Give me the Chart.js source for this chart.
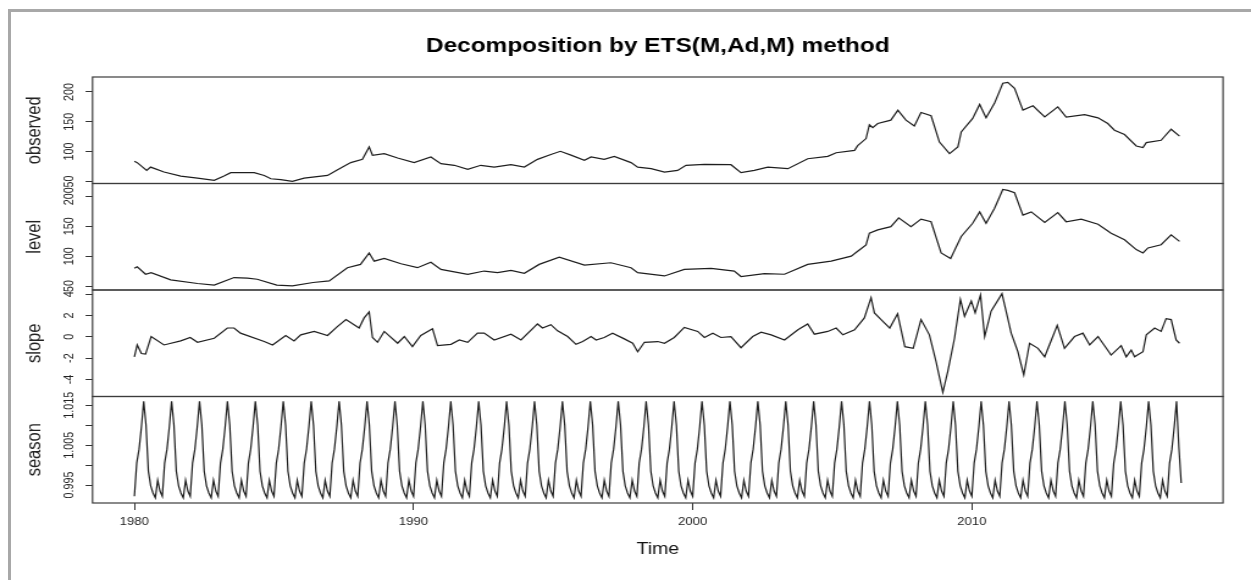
<!DOCTYPE html>
<html><head><meta charset="utf-8">
<script src="https://cdn.jsdelivr.net/npm/chart.js@4.4.1/dist/chart.umd.min.js"></script>
<style>
html,body{margin:0;padding:0;background:#fff;overflow:hidden;width:1251px;height:580px;position:relative;}
#wrap{position:absolute;left:0;top:0;width:1025px;height:580px;transform:scaleX(1.220488);transform-origin:0 0;}
#frame{position:absolute;left:8px;top:9px;width:1260px;height:590px;border-left:3px solid #a8a8a8;border-top:3px solid #a8a8a8;box-sizing:border-box;pointer-events:none;}
</style></head><body>
<div id="wrap"><canvas id="c" width="1025" height="580"></canvas></div>
<div id="frame"></div>
<script>
// ---- data ----
const xTicks = [1980, 1990, 2000, 2010];
const obsTicks = [50, 100, 150, 200];
const levelTicks = [50, 100, 150, 200];
const slopeTicks = [-4, -2, 0, 2, 4];
const seasonTicks = [0.995, 1.000, 1.005, 1.010, 1.015];
const seasonTickLabels = ['0.995', '', '1.005', '', '1.015'];

const obsTime = [1980.0,1980.1,1980.44,1980.58,1981.06,1981.66,1982.26,1982.86,1983.21,1983.45,1984.29,1984.65,1984.89,1985.24,1985.66,1986.08,1986.92,1987.28,1987.75,1988.17,1988.41,1988.53,1988.95,1989.43,1990.02,1990.62,1990.98,1991.46,1991.94,1992.41,1992.89,1993.49,1993.97,1994.44,1994.92,1995.26,1995.64,1996.12,1996.36,1996.83,1997.19,1997.79,1998.03,1998.51,1998.99,1999.46,1999.76,2000.42,2001.37,2001.73,2002.21,2002.69,2003.41,2004.12,2004.84,2005.14,2005.8,2005.91,2006.21,2006.33,2006.45,2006.63,2007.1,2007.35,2007.64,2007.94,2008.18,2008.54,2008.84,2009.2,2009.5,2009.62,2010.03,2010.28,2010.51,2010.81,2011.11,2011.29,2011.53,2011.83,2012.19,2012.61,2013.08,2013.38,2014.04,2014.52,2014.87,2015.11,2015.47,2015.89,2016.13,2016.25,2016.78,2017.14,2017.44];
const observed = [83.7,81.5,68.5,74,65.7,59,55.6,51.7,59,64.6,64.6,60,54.5,53,50,55.6,60,69.6,81.5,87,107.8,93.8,96.6,89.3,81.5,91,79.8,77,70.2,77,74,78,74,87,95,100.5,94,85.3,91,87,92,81.5,74,71.4,65.7,68.5,77,78.6,78,64.6,68.5,74,71.4,88,92,98,102,110,121.8,145,140,147,152.7,169.5,152.7,143,165.6,160,116,96.6,107.8,133,155.5,179,156.6,180.8,214.5,216,206,169.5,176.8,158,175,158,162,156.6,147,135.9,128.6,109.4,106.7,115,119,137.5,126];

const levelTime = [1980.0,1980.1,1980.4,1980.6,1981.3,1982.26,1982.86,1983.57,1984.05,1984.4,1985.1,1985.66,1986.4,1986.98,1987.63,1988.1,1988.41,1988.59,1988.95,1989.55,1990.14,1990.62,1990.98,1991.94,1992.53,1993.01,1993.49,1993.97,1994.5,1995.22,1996.12,1997.07,1997.79,1998.03,1998.99,1999.7,2000.66,2001.49,2001.73,2002.57,2003.29,2004.12,2004.96,2005.68,2005.91,2006.21,2006.33,2006.63,2007.1,2007.38,2007.82,2008.18,2008.54,2008.9,2009.24,2009.62,2010.03,2010.28,2010.51,2010.81,2011.11,2011.29,2011.53,2011.83,2012.13,2012.61,2013.08,2013.38,2013.92,2014.52,2014.99,2015.47,2015.89,2016.13,2016.31,2016.78,2017.14,2017.44];
const level = [79.7,82.4,69.8,72.6,60.4,54.4,51.6,64.3,63.2,61.5,51.6,50.5,56,58.7,80.8,86.3,105.5,91.7,96.2,87.4,80.8,90,78,69.8,75.2,72.6,76.4,71.4,86.3,98.3,85.1,89,80.8,72.6,67,78,79.7,75.2,66,71,69.8,86.3,91.7,100,108.2,119,138.5,144,149.4,164.2,149.4,162,157.6,105.5,96.2,133,155,174,155,179.7,211.5,210,206,168.7,174,156.6,173,157.6,162,153.3,138.5,127.5,111,105.5,113.8,119.2,135.7,124.7];

const slopeTime = [1980.0,1980.1,1980.25,1980.4,1980.6,1981.06,1981.66,1982.0,1982.26,1982.86,1983.33,1983.57,1983.8,1984.65,1984.95,1985.42,1985.72,1985.96,1986.44,1986.92,1987.28,1987.58,1988.05,1988.23,1988.41,1988.53,1988.71,1988.95,1989.43,1989.67,1989.96,1990.26,1990.68,1990.86,1991.34,1991.64,1991.94,1992.29,1992.53,1992.89,1993.49,1993.85,1994.44,1994.62,1994.92,1995.16,1995.52,1995.82,1996.06,1996.36,1996.54,1996.83,1997.13,1997.55,1997.85,1998.03,1998.27,1998.75,1998.99,1999.34,1999.7,2000.18,2000.42,2000.72,2001.01,2001.37,2001.73,2002.15,2002.45,2002.81,2003.29,2003.77,2004.12,2004.36,2004.84,2005.14,2005.38,2005.8,2006.15,2006.39,2006.51,2006.75,2007.06,2007.34,2007.6,2007.9,2008.18,2008.48,2008.72,2008.96,2009.14,2009.38,2009.59,2009.74,2009.98,2010.12,2010.31,2010.46,2010.69,2011.08,2011.41,2011.65,2011.86,2012.07,2012.37,2012.61,2012.85,2013.06,2013.32,2013.68,2013.98,2014.22,2014.52,2014.99,2015.35,2015.53,2015.71,2015.83,2016.13,2016.25,2016.55,2016.78,2016.96,2017.14,2017.32,2017.44];
const slope = [-1.87,-0.76,-1.56,-1.62,0.03,-0.76,-0.38,-0.06,-0.51,-0.13,0.83,0.83,0.35,-0.44,-0.76,0.13,-0.38,0.19,0.51,0.13,0.98,1.62,0.83,1.78,2.35,-0.06,-0.51,0.51,-0.6,0.03,-0.92,0.13,0.76,-0.83,-0.7,-0.29,-0.51,0.35,0.35,-0.29,0.25,-0.29,1.21,0.83,1.14,0.57,0.03,-0.7,-0.44,0.03,-0.29,-0.06,0.35,-0.19,-0.6,-1.4,-0.51,-0.44,-0.6,-0.06,0.89,0.51,-0.06,0.35,-0.06,0.03,-1.02,0.03,0.44,0.19,-0.29,0.67,1.21,0.25,0.51,0.83,0.19,0.67,1.78,3.68,2.25,1.62,0.83,2.16,-0.92,-1.08,1.62,0.19,-2.35,-5.21,-3.24,-0.13,3.52,1.94,3.37,2.25,3.94,0.03,2.41,4.06,0.35,-1.4,-3.56,-0.6,-1.08,-1.87,-0.29,1.08,-1.08,0.03,0.35,-0.76,0.03,-1.71,-0.83,-1.87,-1.24,-1.87,-1.4,0.19,0.83,0.51,1.71,1.62,-0.29,-0.6];

const seasonStart = 1980; // monthly, Jan 1980 .. Jul 2017
const season = [
0.9922,1.0005,1.0040,1.0095,1.0160,1.0100,0.9985,0.9948,0.9930,0.9918,0.9962,0.9935,
0.9922,1.0005,1.0040,1.0095,1.0160,1.0100,0.9985,0.9948,0.9930,0.9918,0.9962,0.9935,
0.9922,1.0005,1.0040,1.0095,1.0160,1.0100,0.9985,0.9948,0.9930,0.9918,0.9962,0.9935,
0.9922,1.0005,1.0040,1.0095,1.0160,1.0100,0.9985,0.9948,0.9930,0.9918,0.9962,0.9935,
0.9922,1.0005,1.0040,1.0095,1.0160,1.0100,0.9985,0.9948,0.9930,0.9918,0.9962,0.9935,
0.9922,1.0005,1.0040,1.0095,1.0160,1.0100,0.9985,0.9948,0.9930,0.9918,0.9962,0.9935,
0.9922,1.0005,1.0040,1.0095,1.0160,1.0100,0.9985,0.9948,0.9930,0.9918,0.9962,0.9935,
0.9922,1.0005,1.0040,1.0095,1.0160,1.0100,0.9985,0.9948,0.9930,0.9918,0.9962,0.9935,
0.9922,1.0005,1.0040,1.0095,1.0160,1.0100,0.9985,0.9948,0.9930,0.9918,0.9962,0.9935,
0.9922,1.0005,1.0040,1.0095,1.0160,1.0100,0.9985,0.9948,0.9930,0.9918,0.9962,0.9935,
0.9922,1.0005,1.0040,1.0095,1.0160,1.0100,0.9985,0.9948,0.9930,0.9918,0.9962,0.9935,
0.9922,1.0005,1.0040,1.0095,1.0160,1.0100,0.9985,0.9948,0.9930,0.9918,0.9962,0.9935,
0.9922,1.0005,1.0040,1.0095,1.0160,1.0100,0.9985,0.9948,0.9930,0.9918,0.9962,0.9935,
0.9922,1.0005,1.0040,1.0095,1.0160,1.0100,0.9985,0.9948,0.9930,0.9918,0.9962,0.9935,
0.9922,1.0005,1.0040,1.0095,1.0160,1.0100,0.9985,0.9948,0.9930,0.9918,0.9962,0.9935,
0.9922,1.0005,1.0040,1.0095,1.0160,1.0100,0.9985,0.9948,0.9930,0.9918,0.9962,0.9935,
0.9922,1.0005,1.0040,1.0095,1.0160,1.0100,0.9985,0.9948,0.9930,0.9918,0.9962,0.9935,
0.9922,1.0005,1.0040,1.0095,1.0160,1.0100,0.9985,0.9948,0.9930,0.9918,0.9962,0.9935,
0.9922,1.0005,1.0040,1.0095,1.0160,1.0100,0.9985,0.9948,0.9930,0.9918,0.9962,0.9935,
0.9922,1.0005,1.0040,1.0095,1.0160,1.0100,0.9985,0.9948,0.9930,0.9918,0.9962,0.9935,
0.9922,1.0005,1.0040,1.0095,1.0160,1.0100,0.9985,0.9948,0.9930,0.9918,0.9962,0.9935,
0.9922,1.0005,1.0040,1.0095,1.0160,1.0100,0.9985,0.9948,0.9930,0.9918,0.9962,0.9935,
0.9922,1.0005,1.0040,1.0095,1.0160,1.0100,0.9985,0.9948,0.9930,0.9918,0.9962,0.9935,
0.9922,1.0005,1.0040,1.0095,1.0160,1.0100,0.9985,0.9948,0.9930,0.9918,0.9962,0.9935,
0.9922,1.0005,1.0040,1.0095,1.0160,1.0100,0.9985,0.9948,0.9930,0.9918,0.9962,0.9935,
0.9922,1.0005,1.0040,1.0095,1.0160,1.0100,0.9985,0.9948,0.9930,0.9918,0.9962,0.9935,
0.9922,1.0005,1.0040,1.0095,1.0160,1.0100,0.9985,0.9948,0.9930,0.9918,0.9962,0.9935,
0.9922,1.0005,1.0040,1.0095,1.0160,1.0100,0.9985,0.9948,0.9930,0.9918,0.9962,0.9935,
0.9922,1.0005,1.0040,1.0095,1.0160,1.0100,0.9985,0.9948,0.9930,0.9918,0.9962,0.9935,
0.9922,1.0005,1.0040,1.0095,1.0160,1.0100,0.9985,0.9948,0.9930,0.9918,0.9962,0.9935,
0.9922,1.0005,1.0040,1.0095,1.0160,1.0100,0.9985,0.9948,0.9930,0.9918,0.9962,0.9935,
0.9922,1.0005,1.0040,1.0095,1.0160,1.0100,0.9985,0.9948,0.9930,0.9918,0.9962,0.9935,
0.9922,1.0005,1.0040,1.0095,1.0160,1.0100,0.9985,0.9948,0.9930,0.9918,0.9962,0.9935,
0.9922,1.0005,1.0040,1.0095,1.0160,1.0100,0.9985,0.9948,0.9930,0.9918,0.9962,0.9935,
0.9922,1.0005,1.0040,1.0095,1.0160,1.0100,0.9985,0.9948,0.9930,0.9918,0.9962,0.9935,
0.9922,1.0005,1.0040,1.0095,1.0160,1.0100,0.9985,0.9948,0.9930,0.9918,0.9962,0.9935,
0.9922,1.0005,1.0040,1.0095,1.0160,1.0100,0.9985,0.9948,0.9930,0.9918,0.9962,0.9935,
0.9922,1.0005,1.0040,1.0095,1.0160,1.0045,0.9955
];

const titleText = 'Decomposition by ETS(M,Ad,M) method';
const panelNames = ['observed', 'level', 'slope', 'season'];

// ---- chart construction ----
const FONT = "'Liberation Sans', Arial, Helvetica, sans-serif";
const pairs = (t, v) => v.map((y, i) => ({x: t[i], y}));
const seasonPts = season.map((y, i) => ({x: seasonStart + i / 12, y}));

function yAxis(title, weight, min, max, tickVals, pad, labels) {
  return {
    type: 'linear', position: 'left', stack: 'panels', stackWeight: 1, weight,
    min, max,
    afterBuildTicks(s) { s.ticks = tickVals.map(v => ({value: v})); },
    ticks: { autoSkip: false, minRotation: 90, maxRotation: 90,
             crossAlign: 'center', padding: pad, font: {family: FONT, size: 10.8}, color: '#222',
             callback: (v, i) => (labels ? labels[i] : String(v)) },
    grid: { drawOnChartArea: false, drawTicks: true, tickLength: 5.7, color: '#333', lineWidth: 1 },
    border: { display: false },
    title: { display: true, text: title, font: {family: FONT, size: 16.5}, color: '#222', padding: {top: 18.4, bottom: 0} },
    afterFit(s) { s.width = 75.8; }
  };
}

const panelFrames = {
  id: 'panelFrames',
  afterDatasetsDraw(chart) {
    const {ctx, chartArea} = chart;
    ctx.save();
    ctx.strokeStyle = '#3c3c3c';
    ctx.lineWidth = 1.2;
    ['yObs', 'yLevel', 'ySlope', 'ySeason'].forEach(id => {
      const s = chart.scales[id];
      ctx.strokeRect(chartArea.left, s.top, chartArea.right - chartArea.left, s.bottom - s.top);
    });
    ctx.restore();
  }
};

const lineStyle = { borderColor: '#1e1e1e', borderWidth: 1.2, pointRadius: 0, fill: false, tension: 0 };

new Chart(document.getElementById('c'), {
  type: 'line',
  data: {
    datasets: [
      Object.assign({ label: panelNames[0], data: pairs(obsTime, observed), yAxisID: 'yObs' }, lineStyle),
      Object.assign({ label: panelNames[1], data: pairs(levelTime, level), yAxisID: 'yLevel' }, lineStyle),
      Object.assign({ label: panelNames[2], data: pairs(slopeTime, slope), yAxisID: 'ySlope' }, lineStyle),
      Object.assign({ label: panelNames[3], data: seasonPts, yAxisID: 'ySeason' }, lineStyle)
    ]
  },
  options: {
    responsive: false, animation: false, events: [],
    layout: { padding: { left: 0, right: 22.9, top: 0, bottom: 0 } },
    plugins: {
      legend: { display: false }, tooltip: { enabled: false },
      title: { display: true, text: titleText, fullSize: false, color: '#000',
               font: {family: FONT, size: 20, weight: 'bold'}, padding: {top: 34, bottom: 19} }
    },
    scales: {
      x: { type: 'linear', position: 'bottom', min: 1978.5, max: 2019.0,
           afterBuildTicks(s) { s.ticks = xTicks.map(v => ({value: v})); },
           ticks: { autoSkip: false, minRotation: 0, maxRotation: 0, padding: 6, font: {family: FONT, size: 10.8}, color: '#222', callback: v => String(v) },
           grid: { drawOnChartArea: false, drawTicks: true, tickLength: 7, color: '#333' },
           border: { display: false },
           title: { display: true, text: 'Time', font: {family: FONT, size: 16}, color: '#111', padding: {top: 0, bottom: 21.3} },
           afterFit(s) { s.height = 77; } },
      yObs: yAxis(panelNames[0], 4, 46.5, 225, obsTicks, 3.7, null),
      yLevel: yAxis(panelNames[1], 3, 43.5, 221.5, levelTicks, 3.7, null),
      ySlope: yAxis(panelNames[2], 2, -5.6, 4.4, slopeTicks, 7.9, null),
      ySeason: yAxis(panelNames[3], 1, 0.9905, 1.0172, seasonTicks, -0.8, seasonTickLabels)
    }
  },
  plugins: [panelFrames]
});
</script>
</body></html>
